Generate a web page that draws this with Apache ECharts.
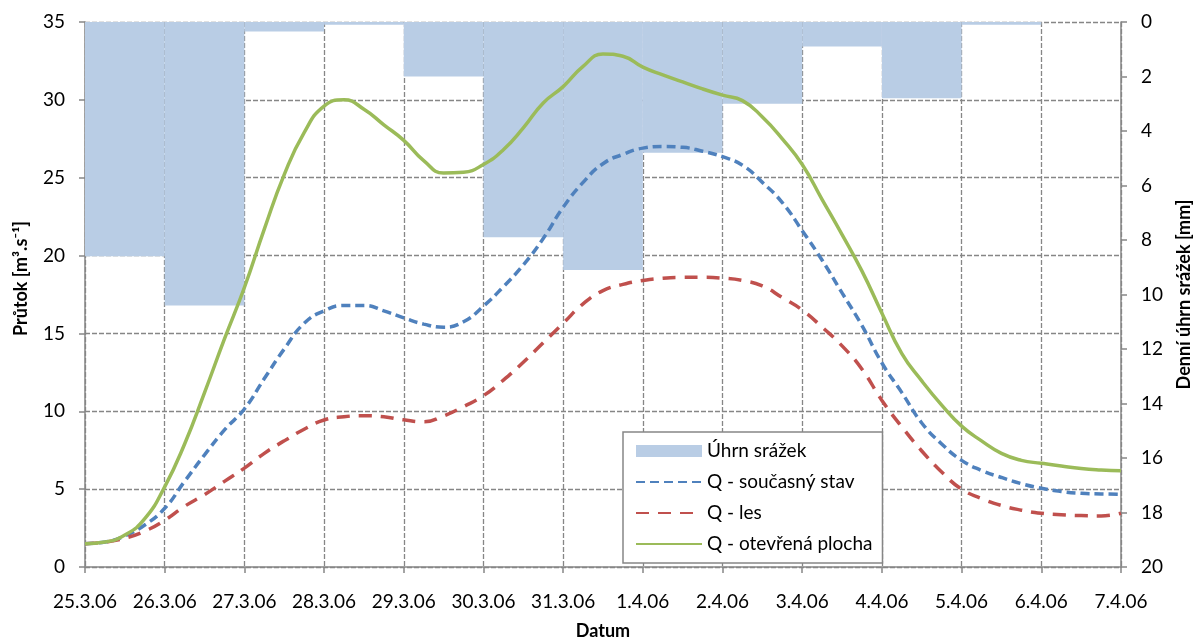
<!DOCTYPE html>
<html>
<head>
<meta charset="utf-8">
<script src="https://cdn.jsdelivr.net/npm/echarts/dist/echarts.min.js"></script>
<style>
  html, body { margin: 0; padding: 0; background: #ffffff; }
  #chart { width: 1196px; height: 639px; }
</style>
</head>
<body>
<div id="chart"></div>
<script>
// Date ticks of the flood event (one per day)
const dateLabels = ['25.3.06', '26.3.06', '27.3.06', '28.3.06', '29.3.06', '30.3.06', '31.3.06',
  '1.4.06', '2.4.06', '3.4.06', '4.4.06', '5.4.06', '6.4.06', '7.4.06'];

// Daily precipitation totals [mm], one per day interval
const rainDays = dateLabels.slice(0, 13);
const rainfall = [8.6, 10.4, 0.35, 0.1, 2.0, 7.9, 9.1, 4.8, 3.0, 0.9, 2.8, 0.1, 0];

// Sampling times of the discharge series [days since 25.3.06], every 6 hours
const sampleDays = [0, 0.25, 0.5, 0.75, 1, 1.25, 1.5, 1.75, 2, 2.25, 2.5, 2.75, 3, 3.25, 3.5, 3.75,
  4, 4.25, 4.5, 4.75, 5, 5.25, 5.5, 5.75, 6, 6.25, 6.5, 6.75, 7, 7.25, 7.5, 7.75, 8, 8.25, 8.5, 8.75,
  9, 9.25, 9.5, 9.75, 10, 10.25, 10.5, 10.75, 11, 11.25, 11.5, 11.75, 12, 12.25, 12.5, 12.75, 13];

// Discharge [m3/s] for the three land-cover scenarios
const qCurrent = [1.5, 1.6, 2.0, 2.7, 3.77, 5.5, 7.2, 8.8, 10.15, 12.1, 14.0, 15.65, 16.45, 16.8, 16.8, 16.45,
  16.0, 15.6, 15.4, 15.75, 16.75, 18.0, 19.4, 21.1, 23.1, 24.7, 25.9, 26.5, 26.9, 27.0, 26.95, 26.7,
  26.35, 25.8, 24.7, 23.4, 21.6, 19.7, 17.6, 15.5, 13.1, 11.2, 9.25, 7.9, 6.85, 6.2, 5.75, 5.35,
  5.06, 4.85, 4.73, 4.69, 4.67];
const qForest = [1.5, 1.6, 1.85, 2.3, 3.0, 3.9, 4.65, 5.5, 6.35, 7.3, 8.1, 8.85, 9.44, 9.65, 9.72, 9.65,
  9.45, 9.33, 9.7, 10.3, 11.0, 12.0, 13.15, 14.4, 15.65, 16.9, 17.75, 18.15, 18.4, 18.55, 18.6, 18.6,
  18.55, 18.4, 18.05, 17.3, 16.5, 15.4, 14.2, 12.7, 10.7, 9.0, 7.45, 6.1, 5.0, 4.4, 3.95, 3.65,
  3.45, 3.35, 3.3, 3.28, 3.45];
const qOpen = [1.5, 1.6, 2.05, 3.1, 5.15, 7.9, 11.2, 14.65, 17.95, 21.7, 25.2, 27.9, 29.6, 30.0, 29.4, 28.4,
  27.4, 26.1, 25.3, 25.35, 25.85, 26.8, 28.2, 29.8, 30.85, 32.15, 32.95, 32.8, 32.1, 31.6, 31.15, 30.7,
  30.3, 29.95, 28.9, 27.5, 25.85, 23.6, 21.35, 19.0, 16.3, 13.7, 11.95, 10.4, 9.05, 8.1, 7.3, 6.85,
  6.66, 6.48, 6.32, 6.23, 6.18];

const FONT = 'Lato';
const GRAY = '#868686';
const pairs = (vals) => sampleDays.map((d, i) => [d, vals[i]]);

const chart = echarts.init(document.getElementById('chart'), null, { renderer: 'canvas' });

chart.setOption({
  animation: false,
  backgroundColor: '#ffffff',
  textStyle: { fontFamily: FONT, color: '#000' },
  grid: { left: 85, right: 75, top: 22, bottom: 72, containLabel: false, outerBoundsMode: 'none' },
  legend: {
    orient: 'vertical',
    left: 623,
    top: 432,
    padding: [9, 10, 9, 12],
    itemGap: 11,
    itemWidth: 66,
    itemHeight: 12,
    backgroundColor: '#ffffff',
    borderColor: GRAY,
    borderWidth: 1.5,
    textStyle: { fontFamily: FONT, fontSize: 19, color: '#000', lineHeight: 20 },
    data: [
      { name: 'Úhrn srážek', icon: 'rect' },
      { name: 'Q - současný stav', itemStyle: { opacity: 0 } },
      { name: 'Q - les', itemStyle: { opacity: 0 } },
      { name: 'Q - otevřená plocha', itemStyle: { opacity: 0 } }
    ]
  },
  xAxis: [
    {
      type: 'value',
      min: 0,
      max: 13,
      interval: 1,
      name: 'Datum',
      nameLocation: 'middle',
      nameGap: 55,
      nameTextStyle: { fontFamily: FONT, fontSize: 18, fontWeight: 'bold', color: '#000' },
      axisLine: { show: true, lineStyle: { color: GRAY, width: 1.5 } },
      axisTick: { show: true, length: 6, lineStyle: { color: GRAY, width: 1.5 } },
      axisLabel: {
        margin: 25, fontSize: 19, color: '#000', fontFamily: FONT,
        showMinLabel: true, showMaxLabel: true,
        formatter: (v) => dateLabels[Math.round(v)] || ''
      },
      splitLine: { show: true, lineStyle: { color: GRAY, width: 1.3, type: [5, 2] } }
    },
    {
      type: 'category',
      data: rainDays,
      boundaryGap: true,
      show: false
    }
  ],
  yAxis: [
    {
      type: 'value',
      min: 0,
      max: 35,
      interval: 5,
      name: 'Průtok [m³.s⁻¹]',
      nameLocation: 'middle',
      nameRotate: 90,
      nameGap: 55,
      nameTextStyle: { fontFamily: FONT, fontSize: 18, fontWeight: 'bold', color: '#000', padding: [0, 0, 0, 32] },
      axisLine: { show: true, lineStyle: { color: GRAY, width: 1.5 } },
      axisTick: { show: true, length: 6, lineStyle: { color: GRAY, width: 1.5 } },
      axisLabel: { margin: 20, fontSize: 19, color: '#000', fontFamily: FONT },
      splitLine: { show: true, lineStyle: { color: GRAY, width: 1.3, type: [5, 2] } }
    },
    {
      type: 'value',
      min: 0,
      max: 20,
      interval: 2,
      inverse: true,
      position: 'right',
      name: 'Denní úhrn srážek [mm]',
      nameLocation: 'middle',
      nameRotate: 90,
      nameGap: 54,
      nameTextStyle: { fontFamily: FONT, fontSize: 18, fontWeight: 'bold', color: '#000' },
      axisLine: { show: true, lineStyle: { color: GRAY, width: 1.5 } },
      axisTick: { show: true, length: 6, lineStyle: { color: GRAY, width: 1.5 } },
      axisLabel: { margin: 20, fontSize: 19, color: '#000', fontFamily: FONT },
      splitLine: { show: false }
    }
  ],
  series: [
    {
      name: 'Úhrn srážek',
      type: 'bar',
      xAxisIndex: 1,
      yAxisIndex: 1,
      data: rainfall,
      barWidth: '100%',
      barCategoryGap: 0,
      itemStyle: { color: '#B9CDE5' },
      z: 1
    },
    {
      name: 'Q - současný stav',
      type: 'line',
      xAxisIndex: 0,
      yAxisIndex: 0,
      data: pairs(qCurrent),
      smooth: 0.5,
      showSymbol: false,
      symbol: 'none',
      lineStyle: { color: '#4F81BD', width: 3.5, type: [9, 5] },
      itemStyle: { color: '#4F81BD' },
      z: 3
    },
    {
      name: 'Q - les',
      type: 'line',
      xAxisIndex: 0,
      yAxisIndex: 0,
      data: pairs(qForest),
      smooth: 0.5,
      showSymbol: false,
      symbol: 'none',
      lineStyle: { color: '#C0504D', width: 3.5, type: [13, 9] },
      itemStyle: { color: '#C0504D' },
      z: 3
    },
    {
      name: 'Q - otevřená plocha',
      type: 'line',
      xAxisIndex: 0,
      yAxisIndex: 0,
      data: pairs(qOpen),
      smooth: 0.5,
      showSymbol: false,
      symbol: 'none',
      lineStyle: { color: '#9BBB59', width: 3.5 },
      itemStyle: { color: '#9BBB59' },
      z: 3
    }
  ]
});
</script>
</body>
</html>
